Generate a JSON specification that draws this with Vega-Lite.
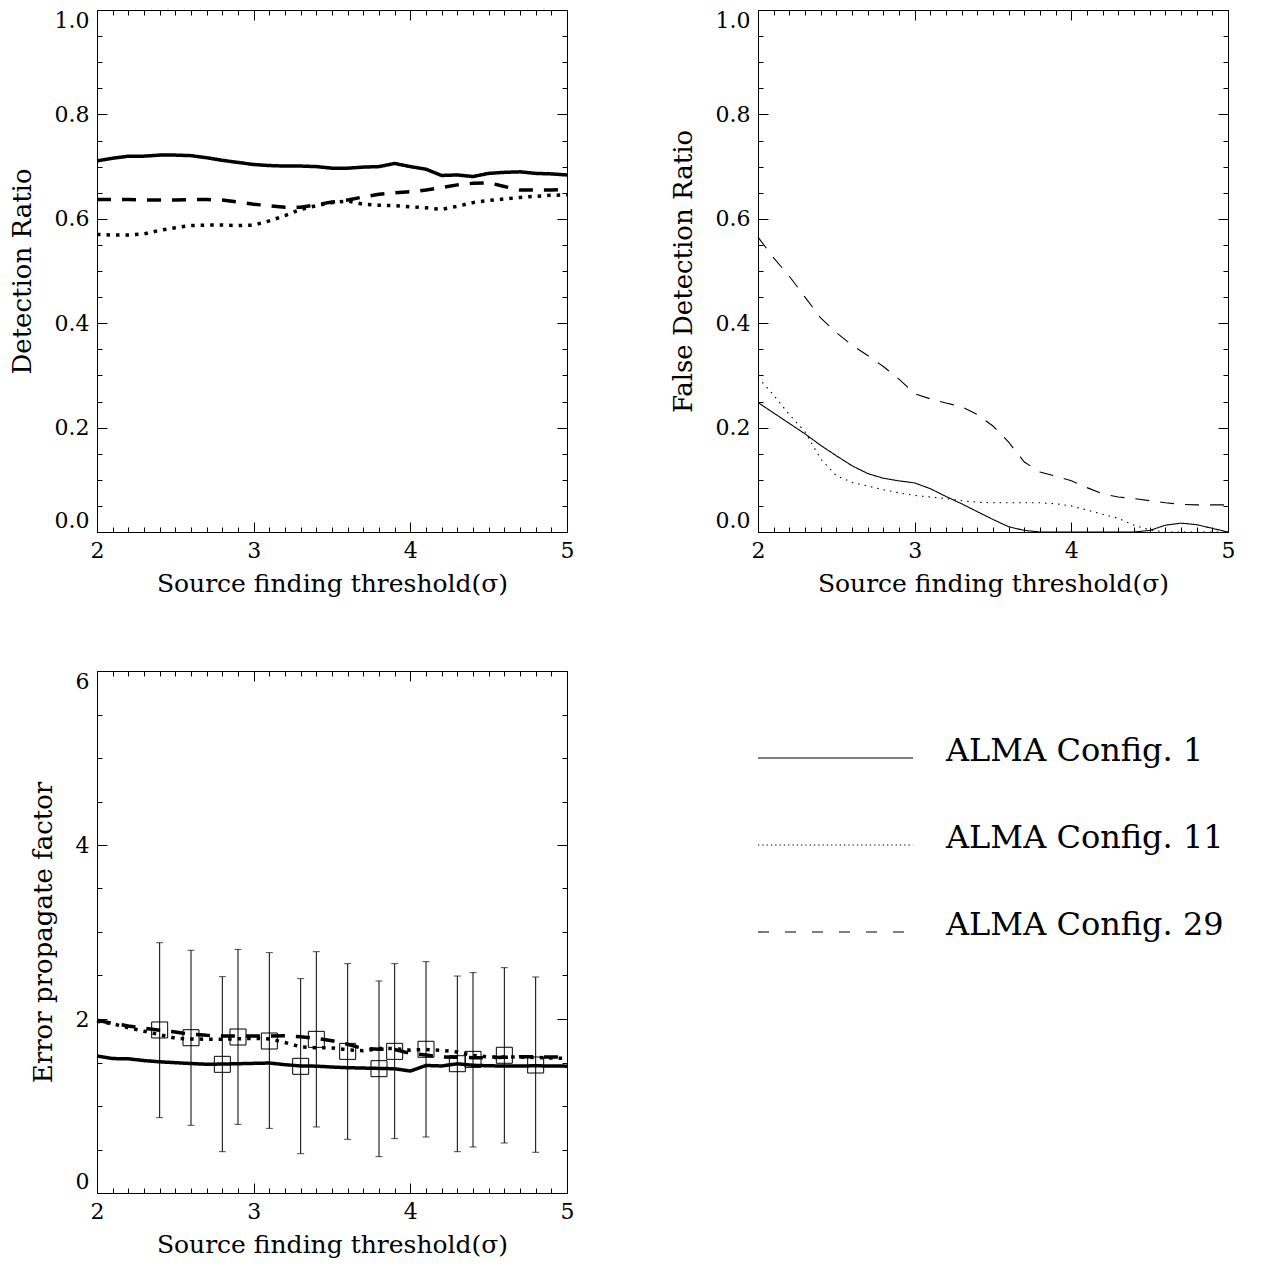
{
  "$schema": "https://vega.github.io/schema/vega-lite/v6.json",
  "padding": {"left": 8, "top": 8, "right": 5, "bottom": 5},
  "background": "white",
  "columns": 2,
  "bounds": "flush",
  "spacing": {"row": 139, "column": 191},
  "config": {
    "view": {"stroke": "black", "strokeWidth": 1},
    "axis": {
      "domain": false, "grid": false, "tickColor": "black", "tickWidth": 1,
      "labelColor": "black", "titleColor": "black",
      "labelFont": "DejaVu Serif", "titleFont": "DejaVu Serif",
      "labelFontSize": 22, "titleFontSize": 25, "titleFontWeight": "normal",
      "labelOverlap": false, "labelBound": false, "labelPadding": 18, "titlePadding": 5
    },
    "axisX": {"labelFlush": false},
    "axisY": {"labelFlush": true, "titlePadding": 19, "titleFontSize": 26}
  },
  "resolve": {"scale": {"strokeDash": "independent"}},
  "datasets": {
    "det": [
      {"cfg":"c1","x":2.0,"y":0.711},{"cfg":"c1","x":2.1,"y":0.716},{"cfg":"c1","x":2.2,"y":0.720},{"cfg":"c1","x":2.3,"y":0.720},{"cfg":"c1","x":2.4,"y":0.722},{"cfg":"c1","x":2.5,"y":0.722},{"cfg":"c1","x":2.6,"y":0.721},{"cfg":"c1","x":2.7,"y":0.717},{"cfg":"c1","x":2.8,"y":0.712},{"cfg":"c1","x":2.9,"y":0.708},{"cfg":"c1","x":3.0,"y":0.704},{"cfg":"c1","x":3.1,"y":0.702},{"cfg":"c1","x":3.2,"y":0.701},{"cfg":"c1","x":3.3,"y":0.701},{"cfg":"c1","x":3.4,"y":0.700},{"cfg":"c1","x":3.5,"y":0.697},{"cfg":"c1","x":3.6,"y":0.697},{"cfg":"c1","x":3.7,"y":0.699},{"cfg":"c1","x":3.8,"y":0.700},{"cfg":"c1","x":3.9,"y":0.706},{"cfg":"c1","x":4.0,"y":0.700},{"cfg":"c1","x":4.1,"y":0.695},{"cfg":"c1","x":4.2,"y":0.683},{"cfg":"c1","x":4.3,"y":0.684},{"cfg":"c1","x":4.4,"y":0.681},{"cfg":"c1","x":4.5,"y":0.687},{"cfg":"c1","x":4.6,"y":0.689},{"cfg":"c1","x":4.7,"y":0.690},{"cfg":"c1","x":4.8,"y":0.687},{"cfg":"c1","x":4.9,"y":0.686},{"cfg":"c1","x":5.0,"y":0.684},
      {"cfg":"c11","x":2.0,"y":0.570},{"cfg":"c11","x":2.1,"y":0.569},{"cfg":"c11","x":2.2,"y":0.569},{"cfg":"c11","x":2.3,"y":0.571},{"cfg":"c11","x":2.4,"y":0.578},{"cfg":"c11","x":2.5,"y":0.583},{"cfg":"c11","x":2.6,"y":0.587},{"cfg":"c11","x":2.7,"y":0.588},{"cfg":"c11","x":2.8,"y":0.588},{"cfg":"c11","x":2.9,"y":0.587},{"cfg":"c11","x":3.0,"y":0.588},{"cfg":"c11","x":3.1,"y":0.596},{"cfg":"c11","x":3.2,"y":0.606},{"cfg":"c11","x":3.3,"y":0.618},{"cfg":"c11","x":3.4,"y":0.625},{"cfg":"c11","x":3.5,"y":0.631},{"cfg":"c11","x":3.6,"y":0.634},{"cfg":"c11","x":3.7,"y":0.628},{"cfg":"c11","x":3.8,"y":0.626},{"cfg":"c11","x":3.9,"y":0.625},{"cfg":"c11","x":4.0,"y":0.623},{"cfg":"c11","x":4.1,"y":0.621},{"cfg":"c11","x":4.2,"y":0.618},{"cfg":"c11","x":4.3,"y":0.624},{"cfg":"c11","x":4.4,"y":0.631},{"cfg":"c11","x":4.5,"y":0.635},{"cfg":"c11","x":4.6,"y":0.638},{"cfg":"c11","x":4.7,"y":0.641},{"cfg":"c11","x":4.8,"y":0.643},{"cfg":"c11","x":4.9,"y":0.645},{"cfg":"c11","x":5.0,"y":0.646},
      {"cfg":"c29","x":2.0,"y":0.637},{"cfg":"c29","x":2.1,"y":0.637},{"cfg":"c29","x":2.2,"y":0.637},{"cfg":"c29","x":2.3,"y":0.636},{"cfg":"c29","x":2.4,"y":0.636},{"cfg":"c29","x":2.5,"y":0.636},{"cfg":"c29","x":2.6,"y":0.637},{"cfg":"c29","x":2.7,"y":0.637},{"cfg":"c29","x":2.8,"y":0.636},{"cfg":"c29","x":2.9,"y":0.632},{"cfg":"c29","x":3.0,"y":0.628},{"cfg":"c29","x":3.1,"y":0.625},{"cfg":"c29","x":3.2,"y":0.622},{"cfg":"c29","x":3.3,"y":0.622},{"cfg":"c29","x":3.4,"y":0.627},{"cfg":"c29","x":3.5,"y":0.632},{"cfg":"c29","x":3.6,"y":0.636},{"cfg":"c29","x":3.7,"y":0.642},{"cfg":"c29","x":3.8,"y":0.647},{"cfg":"c29","x":3.9,"y":0.650},{"cfg":"c29","x":4.0,"y":0.652},{"cfg":"c29","x":4.1,"y":0.655},{"cfg":"c29","x":4.2,"y":0.660},{"cfg":"c29","x":4.3,"y":0.665},{"cfg":"c29","x":4.4,"y":0.668},{"cfg":"c29","x":4.5,"y":0.669},{"cfg":"c29","x":4.6,"y":0.662},{"cfg":"c29","x":4.7,"y":0.655},{"cfg":"c29","x":4.8,"y":0.655},{"cfg":"c29","x":4.9,"y":0.655},{"cfg":"c29","x":5.0,"y":0.656}
    ],
    "fdr": [
      {"cfg":"c1","x":2.0,"y":0.248},{"cfg":"c1","x":2.1,"y":0.228},{"cfg":"c1","x":2.2,"y":0.208},{"cfg":"c1","x":2.3,"y":0.188},{"cfg":"c1","x":2.4,"y":0.166},{"cfg":"c1","x":2.5,"y":0.146},{"cfg":"c1","x":2.6,"y":0.127},{"cfg":"c1","x":2.7,"y":0.112},{"cfg":"c1","x":2.8,"y":0.103},{"cfg":"c1","x":2.9,"y":0.098},{"cfg":"c1","x":3.0,"y":0.094},{"cfg":"c1","x":3.1,"y":0.083},{"cfg":"c1","x":3.2,"y":0.068},{"cfg":"c1","x":3.3,"y":0.054},{"cfg":"c1","x":3.4,"y":0.039},{"cfg":"c1","x":3.5,"y":0.024},{"cfg":"c1","x":3.6,"y":0.010},{"cfg":"c1","x":3.7,"y":0.003},{"cfg":"c1","x":3.8,"y":0.0},{"cfg":"c1","x":3.9,"y":0.0},{"cfg":"c1","x":4.0,"y":0.0},{"cfg":"c1","x":4.1,"y":0.0},{"cfg":"c1","x":4.2,"y":0.0},{"cfg":"c1","x":4.3,"y":0.0},{"cfg":"c1","x":4.4,"y":0.0},{"cfg":"c1","x":4.5,"y":0.003},{"cfg":"c1","x":4.6,"y":0.013},{"cfg":"c1","x":4.7,"y":0.017},{"cfg":"c1","x":4.8,"y":0.014},{"cfg":"c1","x":4.9,"y":0.007},{"cfg":"c1","x":5.0,"y":0.0},
      {"cfg":"c11","x":2.0,"y":0.296},{"cfg":"c11","x":2.1,"y":0.262},{"cfg":"c11","x":2.2,"y":0.225},{"cfg":"c11","x":2.3,"y":0.192},{"cfg":"c11","x":2.4,"y":0.140},{"cfg":"c11","x":2.5,"y":0.108},{"cfg":"c11","x":2.6,"y":0.095},{"cfg":"c11","x":2.7,"y":0.088},{"cfg":"c11","x":2.8,"y":0.081},{"cfg":"c11","x":2.9,"y":0.075},{"cfg":"c11","x":3.0,"y":0.070},{"cfg":"c11","x":3.1,"y":0.067},{"cfg":"c11","x":3.2,"y":0.064},{"cfg":"c11","x":3.3,"y":0.060},{"cfg":"c11","x":3.4,"y":0.057},{"cfg":"c11","x":3.5,"y":0.056},{"cfg":"c11","x":3.6,"y":0.056},{"cfg":"c11","x":3.7,"y":0.056},{"cfg":"c11","x":3.8,"y":0.056},{"cfg":"c11","x":3.9,"y":0.054},{"cfg":"c11","x":4.0,"y":0.050},{"cfg":"c11","x":4.1,"y":0.042},{"cfg":"c11","x":4.2,"y":0.034},{"cfg":"c11","x":4.3,"y":0.026},{"cfg":"c11","x":4.4,"y":0.013},{"cfg":"c11","x":4.5,"y":0.004},{"cfg":"c11","x":4.6,"y":0.0},{"cfg":"c11","x":4.7,"y":0.0},{"cfg":"c11","x":4.8,"y":0.0},{"cfg":"c11","x":4.9,"y":0.0},{"cfg":"c11","x":5.0,"y":0.0},
      {"cfg":"c29","x":2.0,"y":0.565},{"cfg":"c29","x":2.1,"y":0.525},{"cfg":"c29","x":2.2,"y":0.490},{"cfg":"c29","x":2.3,"y":0.450},{"cfg":"c29","x":2.4,"y":0.410},{"cfg":"c29","x":2.5,"y":0.382},{"cfg":"c29","x":2.6,"y":0.358},{"cfg":"c29","x":2.7,"y":0.338},{"cfg":"c29","x":2.8,"y":0.317},{"cfg":"c29","x":2.9,"y":0.293},{"cfg":"c29","x":3.0,"y":0.265},{"cfg":"c29","x":3.1,"y":0.255},{"cfg":"c29","x":3.2,"y":0.247},{"cfg":"c29","x":3.3,"y":0.240},{"cfg":"c29","x":3.4,"y":0.225},{"cfg":"c29","x":3.5,"y":0.203},{"cfg":"c29","x":3.6,"y":0.172},{"cfg":"c29","x":3.7,"y":0.134},{"cfg":"c29","x":3.8,"y":0.115},{"cfg":"c29","x":3.9,"y":0.107},{"cfg":"c29","x":4.0,"y":0.098},{"cfg":"c29","x":4.1,"y":0.085},{"cfg":"c29","x":4.2,"y":0.073},{"cfg":"c29","x":4.3,"y":0.067},{"cfg":"c29","x":4.4,"y":0.064},{"cfg":"c29","x":4.5,"y":0.060},{"cfg":"c29","x":4.6,"y":0.056},{"cfg":"c29","x":4.7,"y":0.053},{"cfg":"c29","x":4.8,"y":0.052},{"cfg":"c29","x":4.9,"y":0.052},{"cfg":"c29","x":5.0,"y":0.052}
    ],
    "epf": [
      {"cfg":"c1","x":2.0,"y":1.575},{"cfg":"c1","x":2.1,"y":1.545},{"cfg":"c1","x":2.2,"y":1.543},{"cfg":"c1","x":2.3,"y":1.522},{"cfg":"c1","x":2.4,"y":1.508},{"cfg":"c1","x":2.5,"y":1.498},{"cfg":"c1","x":2.6,"y":1.488},{"cfg":"c1","x":2.7,"y":1.480},{"cfg":"c1","x":2.8,"y":1.482},{"cfg":"c1","x":2.9,"y":1.486},{"cfg":"c1","x":3.0,"y":1.490},{"cfg":"c1","x":3.1,"y":1.494},{"cfg":"c1","x":3.2,"y":1.475},{"cfg":"c1","x":3.3,"y":1.460},{"cfg":"c1","x":3.4,"y":1.458},{"cfg":"c1","x":3.5,"y":1.448},{"cfg":"c1","x":3.6,"y":1.440},{"cfg":"c1","x":3.7,"y":1.436},{"cfg":"c1","x":3.8,"y":1.432},{"cfg":"c1","x":3.9,"y":1.428},{"cfg":"c1","x":4.0,"y":1.402},{"cfg":"c1","x":4.1,"y":1.466},{"cfg":"c1","x":4.2,"y":1.460},{"cfg":"c1","x":4.3,"y":1.485},{"cfg":"c1","x":4.4,"y":1.468},{"cfg":"c1","x":4.5,"y":1.462},{"cfg":"c1","x":4.6,"y":1.460},{"cfg":"c1","x":4.7,"y":1.460},{"cfg":"c1","x":4.8,"y":1.462},{"cfg":"c1","x":4.9,"y":1.460},{"cfg":"c1","x":5.0,"y":1.458},
      {"cfg":"c11","x":2.0,"y":1.975},{"cfg":"c11","x":2.1,"y":1.945},{"cfg":"c11","x":2.2,"y":1.900},{"cfg":"c11","x":2.3,"y":1.860},{"cfg":"c11","x":2.4,"y":1.820},{"cfg":"c11","x":2.5,"y":1.780},{"cfg":"c11","x":2.6,"y":1.770},{"cfg":"c11","x":2.7,"y":1.768},{"cfg":"c11","x":2.8,"y":1.768},{"cfg":"c11","x":2.9,"y":1.772},{"cfg":"c11","x":3.0,"y":1.778},{"cfg":"c11","x":3.1,"y":1.770},{"cfg":"c11","x":3.2,"y":1.730},{"cfg":"c11","x":3.3,"y":1.680},{"cfg":"c11","x":3.4,"y":1.670},{"cfg":"c11","x":3.5,"y":1.668},{"cfg":"c11","x":3.6,"y":1.645},{"cfg":"c11","x":3.7,"y":1.635},{"cfg":"c11","x":3.8,"y":1.660},{"cfg":"c11","x":3.9,"y":1.660},{"cfg":"c11","x":4.0,"y":1.642},{"cfg":"c11","x":4.1,"y":1.650},{"cfg":"c11","x":4.2,"y":1.640},{"cfg":"c11","x":4.3,"y":1.620},{"cfg":"c11","x":4.4,"y":1.580},{"cfg":"c11","x":4.5,"y":1.565},{"cfg":"c11","x":4.6,"y":1.563},{"cfg":"c11","x":4.7,"y":1.563},{"cfg":"c11","x":4.8,"y":1.558},{"cfg":"c11","x":4.9,"y":1.552},{"cfg":"c11","x":5.0,"y":1.548},
      {"cfg":"c29","x":2.0,"y":1.985},{"cfg":"c29","x":2.1,"y":1.950},{"cfg":"c29","x":2.2,"y":1.920},{"cfg":"c29","x":2.3,"y":1.895},{"cfg":"c29","x":2.4,"y":1.870},{"cfg":"c29","x":2.5,"y":1.850},{"cfg":"c29","x":2.6,"y":1.825},{"cfg":"c29","x":2.7,"y":1.812},{"cfg":"c29","x":2.8,"y":1.806},{"cfg":"c29","x":2.9,"y":1.805},{"cfg":"c29","x":3.0,"y":1.805},{"cfg":"c29","x":3.1,"y":1.805},{"cfg":"c29","x":3.2,"y":1.808},{"cfg":"c29","x":3.3,"y":1.795},{"cfg":"c29","x":3.4,"y":1.778},{"cfg":"c29","x":3.5,"y":1.750},{"cfg":"c29","x":3.6,"y":1.710},{"cfg":"c29","x":3.7,"y":1.660},{"cfg":"c29","x":3.8,"y":1.652},{"cfg":"c29","x":3.9,"y":1.650},{"cfg":"c29","x":4.0,"y":1.605},{"cfg":"c29","x":4.1,"y":1.585},{"cfg":"c29","x":4.2,"y":1.565},{"cfg":"c29","x":4.3,"y":1.560},{"cfg":"c29","x":4.4,"y":1.556},{"cfg":"c29","x":4.5,"y":1.555},{"cfg":"c29","x":4.6,"y":1.560},{"cfg":"c29","x":4.7,"y":1.566},{"cfg":"c29","x":4.8,"y":1.565},{"cfg":"c29","x":4.9,"y":1.563},{"cfg":"c29","x":5.0,"y":1.562}
    ],
    "err": [
      {"x":2.4,"m":1.874,"lo":0.866,"hi":2.877},{"x":2.6,"m":1.785,"lo":0.778,"hi":2.79},{"x":2.8,"m":1.479,"lo":0.475,"hi":2.487},{"x":2.9,"m":1.793,"lo":0.789,"hi":2.80},{"x":3.1,"m":1.747,"lo":0.743,"hi":2.763},{"x":3.3,"m":1.456,"lo":0.452,"hi":2.464},{"x":3.4,"m":1.766,"lo":0.759,"hi":2.774},{"x":3.6,"m":1.628,"lo":0.617,"hi":2.636},{"x":3.8,"m":1.429,"lo":0.418,"hi":2.437},{"x":3.9,"m":1.628,"lo":0.625,"hi":2.636},{"x":4.1,"m":1.652,"lo":0.644,"hi":2.659},{"x":4.3,"m":1.486,"lo":0.475,"hi":2.494},{"x":4.4,"m":1.536,"lo":0.529,"hi":2.533},{"x":4.6,"m":1.583,"lo":0.575,"hi":2.59},{"x":4.8,"m":1.471,"lo":0.468,"hi":2.483}
    ],
    "leg": [
      {"cfg":"c1","label":"ALMA Config. 1","row":1},
      {"cfg":"c11","label":"ALMA Config. 11","row":2},
      {"cfg":"c29","label":"ALMA Config. 29","row":3}
    ]
  },
  "concat": [
    {
      "width": 470, "height": 522,
      "data": {"name": "det"},
      "layer": [
        {
          "transform": [{"filter": "datum.cfg == 'c1'"}],
          "mark": {"type": "line", "color": "black", "strokeWidth": 3.5, "strokeCap": "butt"},
          "encoding": {
            "x": {"field": "x", "type": "quantitative", "scale": {"domain": [2, 5], "nice": false, "zero": false},
              "axis": {"orient": "bottom", "title": "Source finding threshold(σ)",
                "values": [2,2.1,2.2,2.3,2.4,2.5,2.6,2.7,2.8,2.9,3,3.1,3.2,3.3,3.4,3.5,3.6,3.7,3.8,3.9,4,4.1,4.2,4.3,4.4,4.5,4.6,4.7,4.8,4.9,5],
                "tickSize": {"condition": {"test": "abs(datum.value - round(datum.value)) < 0.001", "value": -10}, "value": -5},
                "labelExpr": "abs(datum.value - round(datum.value)) < 0.001 ? format(datum.value, 'd') : ''"}},
            "y": {"field": "y", "type": "quantitative", "scale": {"domain": [0, 1], "nice": false, "zero": false},
              "axis": {"orient": "left", "title": "Detection Ratio",
                "values": [0,0.05,0.1,0.15,0.2,0.25,0.3,0.35,0.4,0.45,0.5,0.55,0.6,0.65,0.7,0.75,0.8,0.85,0.9,0.95,1],
                "tickSize": {"condition": {"test": "abs(datum.value*5 - round(datum.value*5)) < 0.001", "value": -10}, "value": -5},
                "labelExpr": "abs(datum.value*5 - round(datum.value*5)) < 0.001 ? format(datum.value, '.1f') : ''"}},
            "strokeDash": {"field": "cfg", "type": "nominal", "legend": null,
              "scale": {"domain": ["c1", "c11", "c29"], "range": [[1, 0], [3.5, 6], [14, 11]]}}
          }
        },
        {
          "transform": [{"filter": "datum.cfg != 'c1'"}],
          "mark": {"type": "line", "color": "black", "strokeWidth": 3.5, "strokeCap": "butt"},
          "encoding": {
            "x": {"field": "x", "type": "quantitative",
              "axis": {"orient": "top", "title": null, "labels": false,
                "values": [2,2.1,2.2,2.3,2.4,2.5,2.6,2.7,2.8,2.9,3,3.1,3.2,3.3,3.4,3.5,3.6,3.7,3.8,3.9,4,4.1,4.2,4.3,4.4,4.5,4.6,4.7,4.8,4.9,5],
                "tickSize": {"condition": {"test": "abs(datum.value - round(datum.value)) < 0.001", "value": -10}, "value": -5}}},
            "y": {"field": "y", "type": "quantitative",
              "axis": {"orient": "right", "title": null, "labels": false,
                "values": [0,0.05,0.1,0.15,0.2,0.25,0.3,0.35,0.4,0.45,0.5,0.55,0.6,0.65,0.7,0.75,0.8,0.85,0.9,0.95,1],
                "tickSize": {"condition": {"test": "abs(datum.value*5 - round(datum.value*5)) < 0.001", "value": -10}, "value": -5}}},
            "strokeDash": {"field": "cfg", "type": "nominal", "legend": null}
          }
        }
      ],
      "resolve": {"axis": {"x": "independent", "y": "independent"}}
    },
    {
      "width": 470, "height": 522,
      "data": {"name": "fdr"},
      "layer": [
        {
          "transform": [{"filter": "datum.cfg == 'c1'"}],
          "mark": {"type": "line", "color": "black", "strokeWidth": 1.1, "strokeCap": "butt"},
          "encoding": {
            "x": {"field": "x", "type": "quantitative", "scale": {"domain": [2, 5], "nice": false, "zero": false},
              "axis": {"orient": "bottom", "title": "Source finding threshold(σ)",
                "values": [2,2.1,2.2,2.3,2.4,2.5,2.6,2.7,2.8,2.9,3,3.1,3.2,3.3,3.4,3.5,3.6,3.7,3.8,3.9,4,4.1,4.2,4.3,4.4,4.5,4.6,4.7,4.8,4.9,5],
                "tickSize": {"condition": {"test": "abs(datum.value - round(datum.value)) < 0.001", "value": -10}, "value": -5},
                "labelExpr": "abs(datum.value - round(datum.value)) < 0.001 ? format(datum.value, 'd') : ''"}},
            "y": {"field": "y", "type": "quantitative", "scale": {"domain": [0, 1], "nice": false, "zero": false},
              "axis": {"orient": "left", "title": "False Detection Ratio",
                "values": [0,0.05,0.1,0.15,0.2,0.25,0.3,0.35,0.4,0.45,0.5,0.55,0.6,0.65,0.7,0.75,0.8,0.85,0.9,0.95,1],
                "tickSize": {"condition": {"test": "abs(datum.value*5 - round(datum.value*5)) < 0.001", "value": -10}, "value": -5},
                "labelExpr": "abs(datum.value*5 - round(datum.value*5)) < 0.001 ? format(datum.value, '.1f') : ''"}},
            "strokeDash": {"field": "cfg", "type": "nominal", "legend": null,
              "scale": {"domain": ["c1", "c11", "c29"], "range": [[1, 0], [1.5, 5], [14, 11]]}}
          }
        },
        {
          "transform": [{"filter": "datum.cfg != 'c1'"}],
          "mark": {"type": "line", "color": "black", "strokeWidth": 1.1, "strokeCap": "butt"},
          "encoding": {
            "x": {"field": "x", "type": "quantitative",
              "axis": {"orient": "top", "title": null, "labels": false,
                "values": [2,2.1,2.2,2.3,2.4,2.5,2.6,2.7,2.8,2.9,3,3.1,3.2,3.3,3.4,3.5,3.6,3.7,3.8,3.9,4,4.1,4.2,4.3,4.4,4.5,4.6,4.7,4.8,4.9,5],
                "tickSize": {"condition": {"test": "abs(datum.value - round(datum.value)) < 0.001", "value": -10}, "value": -5}}},
            "y": {"field": "y", "type": "quantitative",
              "axis": {"orient": "right", "title": null, "labels": false,
                "values": [0,0.05,0.1,0.15,0.2,0.25,0.3,0.35,0.4,0.45,0.5,0.55,0.6,0.65,0.7,0.75,0.8,0.85,0.9,0.95,1],
                "tickSize": {"condition": {"test": "abs(datum.value*5 - round(datum.value*5)) < 0.001", "value": -10}, "value": -5}}},
            "strokeDash": {"field": "cfg", "type": "nominal", "legend": null}
          }
        }
      ],
      "resolve": {"axis": {"x": "independent", "y": "independent"}}
    },
    {
      "width": 470, "height": 522,
      "layer": [
        {
          "data": {"name": "epf"},
          "mark": {"type": "line", "color": "black", "strokeWidth": 3.5, "strokeCap": "butt"},
          "encoding": {
            "x": {"field": "x", "type": "quantitative", "scale": {"domain": [2, 5], "nice": false, "zero": false},
              "axis": {"orient": "bottom", "title": "Source finding threshold(σ)",
                "values": [2,2.1,2.2,2.3,2.4,2.5,2.6,2.7,2.8,2.9,3,3.1,3.2,3.3,3.4,3.5,3.6,3.7,3.8,3.9,4,4.1,4.2,4.3,4.4,4.5,4.6,4.7,4.8,4.9,5],
                "tickSize": {"condition": {"test": "abs(datum.value - round(datum.value)) < 0.001", "value": -10}, "value": -5},
                "labelExpr": "abs(datum.value - round(datum.value)) < 0.001 ? format(datum.value, 'd') : ''"}},
            "y": {"field": "y", "type": "quantitative", "scale": {"domain": [0, 6], "nice": false, "zero": false},
              "axis": {"orient": "left", "title": "Error propagate factor",
                "values": [0,0.5,1,1.5,2,2.5,3,3.5,4,4.5,5,5.5,6],
                "tickSize": {"condition": {"test": "abs(datum.value/2 - round(datum.value/2)) < 0.001", "value": -10}, "value": -5},
                "labelExpr": "abs(datum.value/2 - round(datum.value/2)) < 0.001 ? format(datum.value, 'd') : ''"}},
            "strokeDash": {"field": "cfg", "type": "nominal", "legend": null,
              "scale": {"domain": ["c1", "c11", "c29"], "range": [[1, 0], [3.5, 6], [14, 11]]}}
          }
        },
        {
          "data": {"name": "err"},
          "mark": {"type": "errorbar", "color": "black", "thickness": 1, "ticks": {"size": 7}},
          "encoding": {
            "x": {"field": "x", "type": "quantitative", "axis": null},
            "y": {"field": "lo", "type": "quantitative", "axis": null},
            "y2": {"field": "hi"}
          }
        },
        {
          "data": {"name": "err"},
          "mark": {"type": "point", "shape": "square", "size": 256, "filled": false, "stroke": "black", "strokeWidth": 1, "opacity": 1},
          "encoding": {
            "x": {"field": "x", "type": "quantitative",
              "axis": {"orient": "top", "title": null, "labels": false,
                "values": [2,2.1,2.2,2.3,2.4,2.5,2.6,2.7,2.8,2.9,3,3.1,3.2,3.3,3.4,3.5,3.6,3.7,3.8,3.9,4,4.1,4.2,4.3,4.4,4.5,4.6,4.7,4.8,4.9,5],
                "tickSize": {"condition": {"test": "abs(datum.value - round(datum.value)) < 0.001", "value": -10}, "value": -5}}},
            "y": {"field": "m", "type": "quantitative",
              "axis": {"orient": "right", "title": null, "labels": false,
                "values": [0,0.5,1,1.5,2,2.5,3,3.5,4,4.5,5,5.5,6],
                "tickSize": {"condition": {"test": "abs(datum.value/2 - round(datum.value/2)) < 0.001", "value": -10}, "value": -5}}}
          }
        }
      ],
      "resolve": {"axis": {"x": "independent", "y": "independent"}}
    },
    {
      "width": 470, "height": 522,
      "view": {"stroke": null},
      "data": {"name": "leg"},
      "layer": [
        {
          "mark": {"type": "rule", "color": "black", "strokeWidth": 1.1, "strokeCap": "butt"},
          "encoding": {
            "x": {"datum": 0, "type": "quantitative", "scale": {"domain": [0, 1], "nice": false, "zero": false}, "axis": null},
            "x2": {"datum": 0.33},
            "y": {"field": "row", "type": "quantitative", "scale": {"domain": [0, 6], "reverse": true, "nice": false, "zero": false}, "axis": null},
            "strokeDash": {"field": "cfg", "type": "nominal", "legend": null,
              "scale": {"domain": ["c1", "c11", "c29"], "range": [[1, 0], [1.3, 3], [11, 16]]}}
          }
        },
        {
          "mark": {"type": "text", "align": "left", "baseline": "alphabetic", "font": "DejaVu Serif", "fontSize": 32, "color": "black", "dy": 3},
          "encoding": {
            "x": {"datum": 0.4, "type": "quantitative"},
            "y": {"field": "row", "type": "quantitative"},
            "text": {"field": "label"}
          }
        }
      ]
    }
  ]
}
